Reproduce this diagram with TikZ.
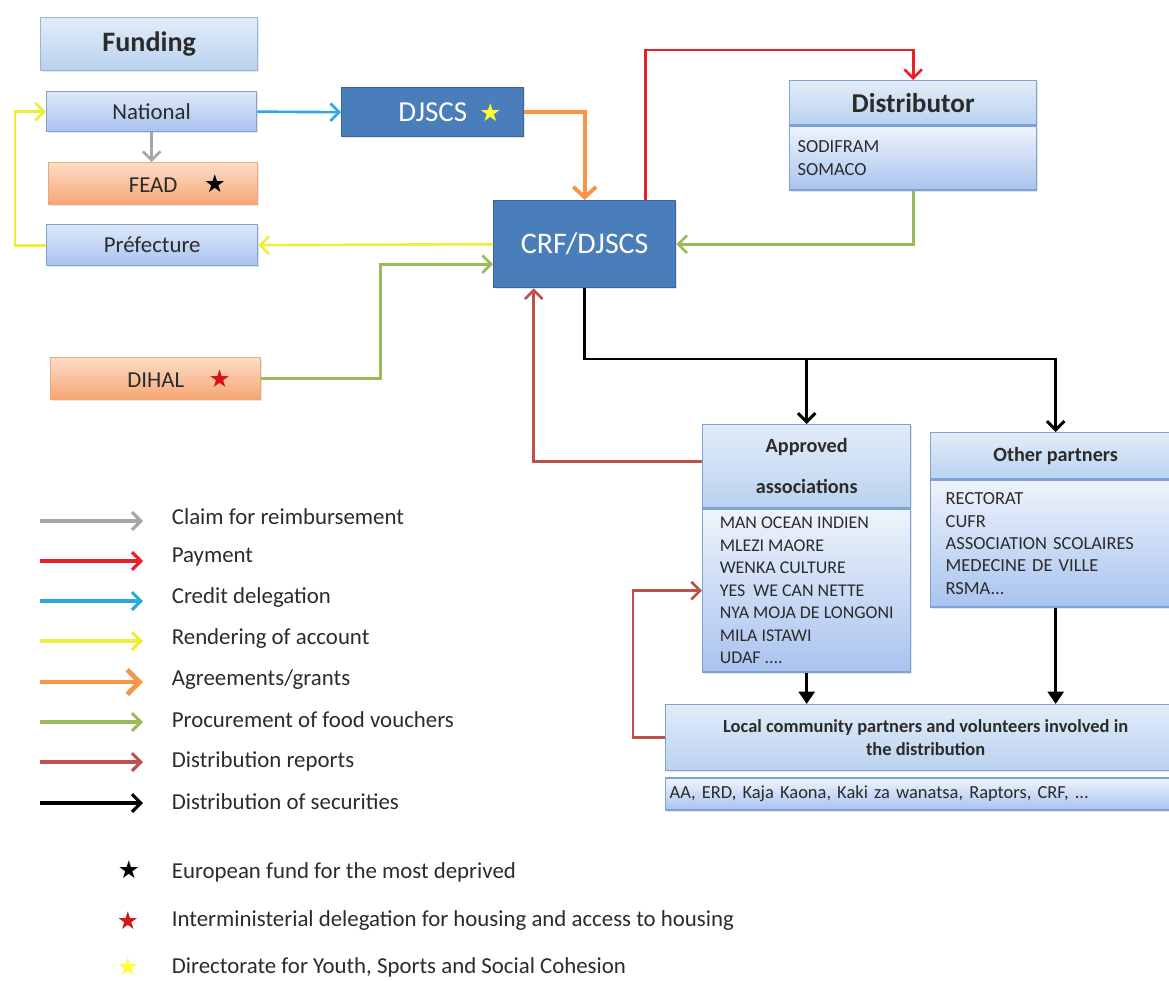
\documentclass[tikz,border=0pt]{standalone}
\usepackage{fontspec}
\setmainfont{Carlito}
\newfontfamily\symfont{DejaVu Sans}
\usetikzlibrary{arrows.meta,positioning,shadows}

\definecolor{lbtop}{HTML}{DDE8F9}
\definecolor{lbbot}{HTML}{A9C3EF}
\definecolor{lbline}{HTML}{7EA2D6}
\definecolor{hdtop}{HTML}{E2ECF8}
\definecolor{hdbot}{HTML}{B9D2EF}
\definecolor{ortop}{HTML}{FCDCC6}
\definecolor{orbot}{HTML}{F6A673}
\definecolor{orline}{HTML}{EFA879}
\definecolor{dkblue}{HTML}{4A7EBB}
\definecolor{dkline}{HTML}{3A649A}
\definecolor{txtgray}{HTML}{2B2B2B}
\definecolor{claimgray}{HTML}{A6A6A6}
\definecolor{payred}{HTML}{E8202A}
\definecolor{credblue}{HTML}{2AA8E0}
\definecolor{rendyellow}{HTML}{EDED3A}
\definecolor{agrorange}{HTML}{F79646}
\definecolor{procgreen}{HTML}{9BBB59}
\definecolor{repbrown}{HTML}{C0504D}
\definecolor{starred}{HTML}{D0151B}
\definecolor{staryellow}{HTML}{FFFF33}

\newcommand{\bstar}[1]{{\symfont\fontsize{14}{14}\selectfont\color{#1}★}}

\begin{document}
\begin{tikzpicture}[x=0.02cm, y=-0.02cm,
  box/.style = {draw=lbline, line width=0.8pt, top color=lbtop, bottom color=lbbot,
    text=txtgray, inner sep=0pt, anchor=north west,
    font=\fontsize{13}{15}\selectfont, drop shadow={opacity=0.2, shadow xshift=1pt, shadow yshift=-1pt}},
  obox/.style = {box, draw=orline, top color=ortop, bottom color=orbot},
  dbox/.style = {box, draw=dkline, fill=dkblue, top color=dkblue, bottom color=dkblue, text=white},
  head/.style = {box, top color=hdtop, bottom color=hdbot, align=center},
  list/.style = {box, top color=hdtop!60!white, bottom color=lbbot, align=left,
    font=\fontsize{10.5}{12.8}\selectfont},
  flow/.style = {line width=1.5pt, -{Straight Barb[length=5pt,width=10pt]}},
  legtext/.style = {anchor=west, inner sep=2pt, text=txtgray, font=\fontsize{13}{15}\selectfont}]

  \useasboundingbox (0,0) rectangle (1169,980);
  \clip (0,0) rectangle (1169,980);

  % funding side
  \node[box, draw=lbline!80!white, top color=hdtop, bottom color=hdbot, minimum width=4.34cm, minimum height=1.06cm,
    font=\fontsize{16}{18}\selectfont\bfseries] (funding) at (40,17) {Funding};
  \node[box, minimum width=4.2cm, minimum height=0.8cm] (national) at (46,91) {National};
  \node[obox, minimum width=4.18cm, minimum height=0.84cm] (fead) at (48,162)
    {\phantom{\bstar{black}}\hspace{15pt}FEAD\hspace{15pt}\bstar{black}};
  \node[box, minimum width=4.22cm, minimum height=0.82cm] (prefecture) at (46,224) {Préfecture};
  \node[obox, minimum width=4.2cm, minimum height=0.84cm] (dihal) at (50,357)
    {\phantom{\bstar{starred}}\hspace{14pt}DIHAL\hspace{14pt}\bstar{starred}};

  % central boxes
  \node[dbox, minimum width=3.64cm, minimum height=0.98cm, font=\fontsize{16.5}{18}\selectfont] (djscs) at (341,87)
    {\phantom{\bstar{staryellow}}\hspace{7pt}DJSCS\hspace{7pt}\bstar{staryellow}};
  \node[dbox, minimum width=3.64cm, minimum height=1.74cm, font=\fontsize{17}{19}\selectfont] (crf) at (493,200) {CRF/DJSCS};

  \node[head, minimum width=4.94cm, minimum height=0.88cm, font=\fontsize{15.5}{17}\selectfont\bfseries] (disthead) at (789,80) {Distributor};
  \node[list, below=0pt of disthead, anchor=north, text width=4.62cm, inner xsep=0.16cm, minimum height=1.28cm] (distbody)
    {SODIFRAM\\SOMACO};

  % partners
  \node[head, minimum width=4.16cm, minimum height=1.66cm, font=\fontsize{11.5}{23.3}\selectfont\bfseries] (apphead) at (702,424)
    {Approved\\associations};
  \node[list, below=0pt of apphead, anchor=north, minimum width=4.16cm, minimum height=3.26cm,
    font=\fontsize{10.2}{12.8}\selectfont] (appbody)
    {MAN OCEAN INDIEN\\MLEZI MAORE\\WENKA CULTURE\\YES\ \ WE CAN NETTE\\NYA MOJA DE LONGONI\\MILA ISTAWI\\UDAF ....};

  \node[head, minimum width=5cm, minimum height=0.92cm, font=\fontsize{11.5}{14}\selectfont\bfseries] (othhead) at (930,432) {Other partners};
  \node[list, below=0pt of othhead, anchor=north, text width=4.4cm, inner xsep=0.3cm, minimum height=2.54cm] (othbody)
    {RECTORAT\\CUFR\\ASSOCIATION SCOLAIRES\\MEDECINE DE VILLE\\RSMA...};

  \node[head, minimum width=10.4cm, minimum height=1.32cm, font=\fontsize{10.5}{13}\selectfont\bfseries] (lochead) at (665,704)
    {Local community partners and volunteers involved in\\the distribution};
  \node[list, below=0.12cm of lochead, anchor=north, text width=10.24cm, inner xsep=0.08cm, minimum height=0.64cm] (locbody)
    {AA, ERD, Kaja Kaona, Kaki za wanatsa, Raptors, CRF, ...};

  % flows
  \draw[flow, claimgray] (national.south) -- (national.south |- fead.north);
  \draw[flow, credblue] (national.east) -- (djscs.west);
  \draw[flow, agrorange, line width=2.2pt, -{Straight Barb[length=6pt,width=13pt]}] (djscs.east) -| (crf.north);
  \draw[flow, payred] ([xshift=1.22cm]crf.north) |- ([yshift=0.6cm]disthead.north) -- (disthead.north);
  \draw[flow, rendyellow] (crf.west) -- (prefecture.east);
  \draw[flow, rendyellow] (prefecture.west) -- ++(-31,0) |- (national.west);
  \draw[flow, procgreen] (distbody.south) |- (crf.east);
  \draw[flow, procgreen] (dihal.east) -- ++(119,0) |- ([yshift=-0.4cm]crf.west);
  \draw[flow, repbrown] ([yshift=0.1cm]apphead.west) -| ([xshift=-1.02cm]crf.south);
  \draw[flow, repbrown] (lochead.west) -- ++(-32,0) |- (appbody.west);

  \coordinate (fork) at (crf.south |- 0,359);
  \draw[flow, black, line width=1.7pt] (crf.south) -- (fork) -| (othhead.north);
  \draw[flow, black, line width=1.7pt] (fork -| apphead.north) -- (apphead.north);
  \draw[black, line width=1.7pt, -{Triangle[length=7pt,width=9pt]}] (appbody.south) -- (appbody.south |- lochead.north);
  \draw[black, line width=1.7pt, -{Triangle[length=7pt,width=9pt]}] (othbody.south) -- (othbody.south |- lochead.north);

  % legend
  \node[legtext] (lclaim) at (168,517) {Claim for reimbursement};
  \node[legtext] (lpay) at (168,557) {Payment};
  \node[legtext] (lcred) at (168,598) {Credit delegation};
  \node[legtext] (lrend) at (168,639) {Rendering of account};
  \node[legtext] (lagr) at (168,680) {Agreements/grants};
  \node[legtext] (lproc) at (168,720) {Procurement of food vouchers};
  \node[legtext] (lrep) at (168,761) {Distribution reports};
  \node[legtext] (lsec) at (168,802) {Distribution of securities};

  \coordinate (aclaim) at (40,521);
  \coordinate (apay) at (40,561);
  \coordinate (acred) at (40,601);
  \coordinate (arend) at (40,641);
  \coordinate (aagr) at (40,682);
  \coordinate (aproc) at (40,722);
  \coordinate (arep) at (40,762);
  \coordinate (asec) at (40,803);

  \draw[flow, claimgray, line width=1.8pt, shorten >=0.5cm] (aclaim) -- (aclaim -| lclaim.west);
  \draw[flow, payred, line width=1.8pt, shorten >=0.5cm] (apay) -- (apay -| lpay.west);
  \draw[flow, credblue, line width=1.8pt, shorten >=0.5cm] (acred) -- (acred -| lcred.west);
  \draw[flow, rendyellow, line width=1.8pt, shorten >=0.5cm] (arend) -- (arend -| lrend.west);
  \draw[flow, agrorange, line width=2.8pt, shorten >=0.5cm, -{Straight Barb[length=7pt,width=14pt]}] (aagr) -- (aagr -| lagr.west);
  \draw[flow, procgreen, line width=1.8pt, shorten >=0.5cm] (aproc) -- (aproc -| lproc.west);
  \draw[flow, repbrown, line width=1.8pt, shorten >=0.5cm] (arep) -- (arep -| lrep.west);
  \draw[flow, black, line width=1.8pt, shorten >=0.5cm] (asec) -- (asec -| lsec.west);

  \node[inner sep=0pt] (sblack) at (129,870) {\bstar{black}};
  \node[inner sep=0pt] (sred) at (128,921) {\bstar{starred}};
  \node[inner sep=0pt] (syellow) at (128,967) {\bstar{staryellow}};
  \node[legtext] (leur) at (168,872) {European fund for the most deprived};
  \node[legtext] (lint) at (168,921) {Interministerial delegation for housing and access to housing};
  \node[legtext] (ldir) at (168,967) {Directorate for Youth, Sports and Social Cohesion};
\end{tikzpicture}
\end{document}
